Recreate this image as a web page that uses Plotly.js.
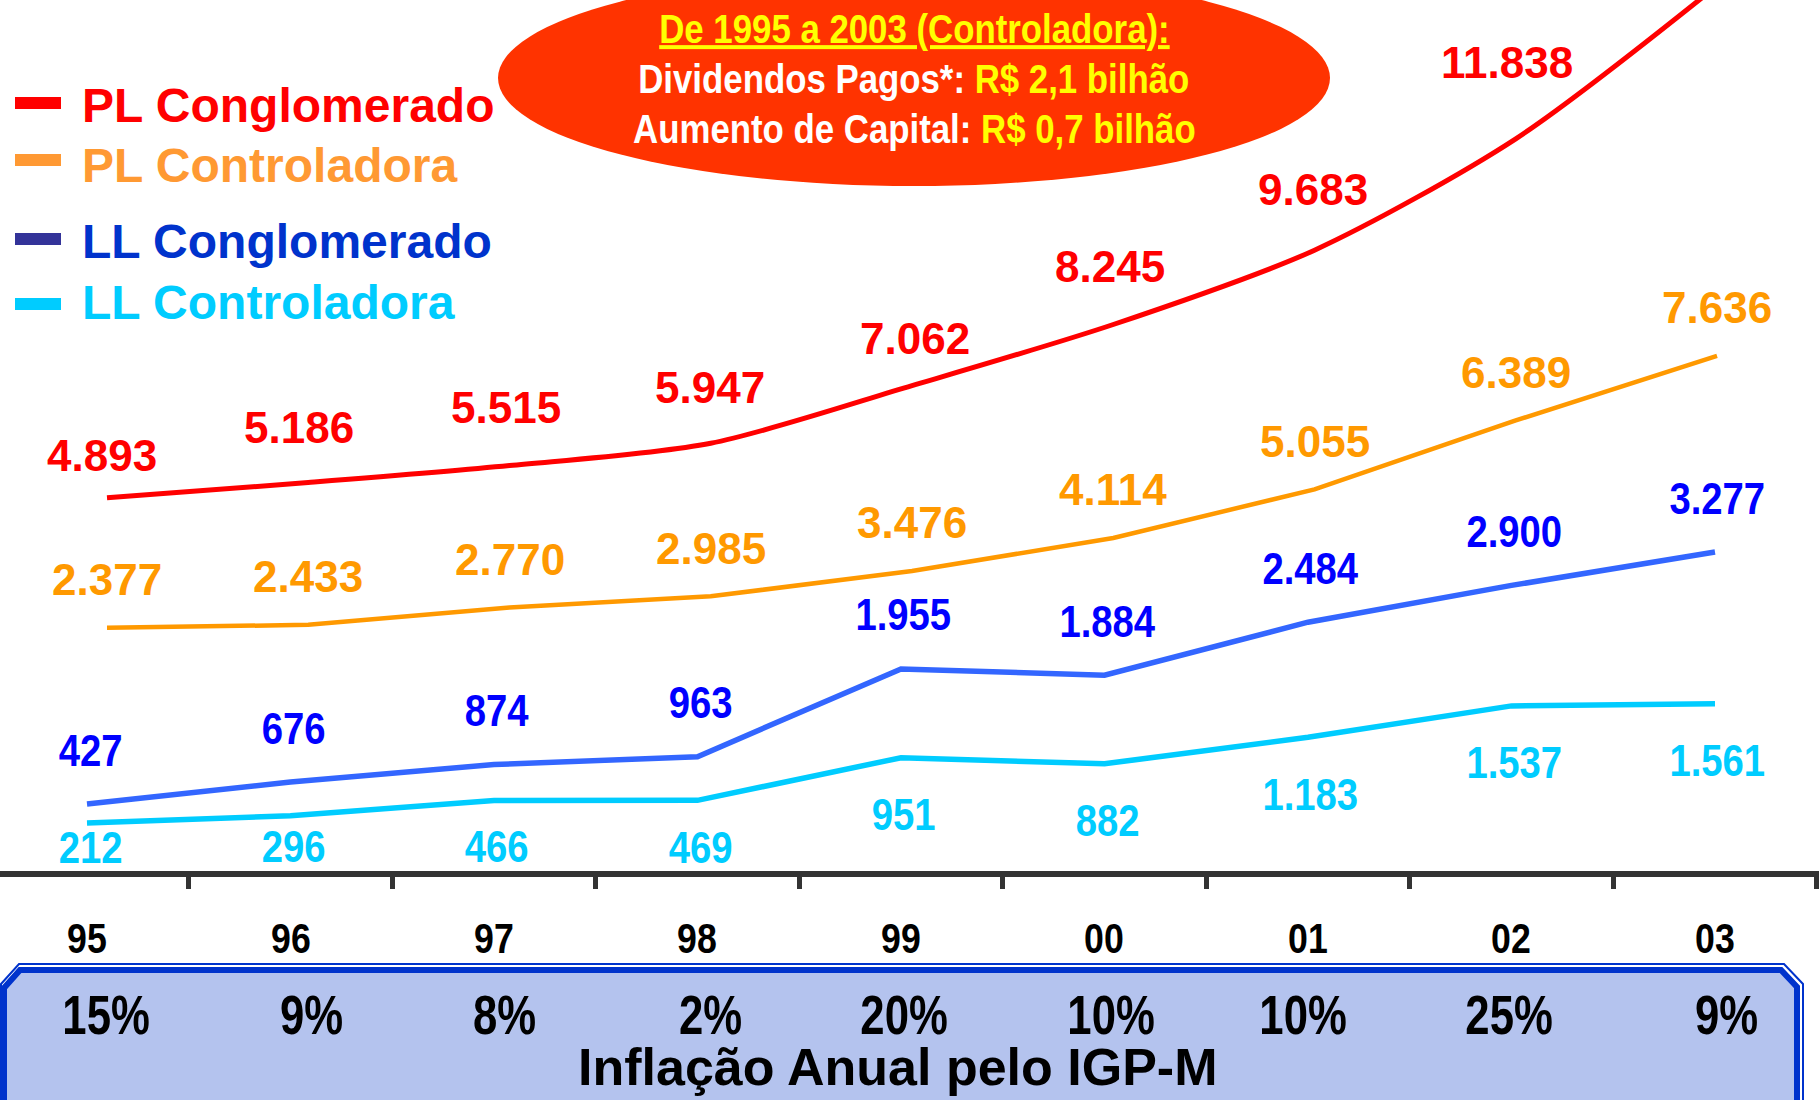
<!DOCTYPE html>
<html>
<head>
<meta charset="utf-8">
<script src="https://cdn.plot.ly/plotly-3.0.1.min.js"></script>
<style>
  html, body { margin: 0; padding: 0; background: #ffffff; }
  #chart { width: 1819px; height: 1100px; }
</style>
</head>
<body>
<div id="chart"></div>
<script>
// ---------------- DATA ----------------
const years = ['95', '96', '97', '98', '99', '00', '01', '02', '03'];
const plConglomerado = [4893, 5186, 5515, 5947, 7062, 8245, 9683, 11838, 14800]; // last value runs off the top (estimated)
const plControladora = [2377, 2433, 2770, 2985, 3476, 4114, 5055, 6389, 7636];
const llConglomerado = [427, 676, 874, 963, 1955, 1884, 2484, 2900, 3277];
const llControladora = [212, 296, 466, 469, 951, 882, 1183, 1537, 1561];
const inflacaoIGPM = [15, 9, 8, 2, 20, 10, 10, 25, 9];
const seriesNames = ['PL Conglomerado', 'PL Controladora', 'LL Conglomerado', 'LL Controladora'];
const boxTitle = 'Inflação Anual pelo IGP-M';
const noteTitle = 'De 1995 a 2003 (Controladora):';
const noteDiv = ['Dividendos Pagos*: ', 'R$ 2,1 bilhão'];
const noteCap = ['Aumento de Capital: ', 'R$ 0,7 bilhão'];

// ---------------- STYLE / LAYOUT HELPERS ----------------
const W = 1819, H = 1100;
const PX = x => x / W;
const PY = y => 1 - y / H;
const ARIAL = "'Liberation Sans', Arial, sans-serif";
const fmt = n => String(n).replace(/\B(?=(\d{3})+(?!\d))/g, '.');

const colPLC = '#FF0000', colPLK = '#FF9900', colLLC = '#3366FF', colLLK = '#00CCFF';
// label pixel offsets (layout only)
const shiftPLC = [42, 55, 58, 56, 47, 58, 61, 76, null];
const xshiftPLC = [-5, -9, -4, -1, 3, -3, -2, -9, 0];
const shiftPLK = 48;
const shiftLLC = 54;
const shiftLLK = [-24, -31, -46, -47, -57, -57, -57, -57, -57];
const xshiftPct = [-1, 3, -5, 0, -8, -2, -12, -7, 9];

const traces = [
  { x: years, y: plConglomerado, name: seriesNames[0], xaxis: 'x2', yaxis: 'y2', mode: 'lines',
    line: { color: colPLC, width: 5, shape: 'spline', smoothing: 0.8 }, hoverinfo: 'skip' },
  { x: years, y: plControladora, name: seriesNames[1], xaxis: 'x2', yaxis: 'y2', mode: 'lines',
    line: { color: colPLK, width: 4.5 }, hoverinfo: 'skip' },
  { x: years, y: llConglomerado, name: seriesNames[2], xaxis: 'x', yaxis: 'y', mode: 'lines',
    line: { color: colLLC, width: 5.5 }, hoverinfo: 'skip' },
  { x: years, y: llControladora, name: seriesNames[3], xaxis: 'x', yaxis: 'y', mode: 'lines',
    line: { color: colLLK, width: 5.5 }, hoverinfo: 'skip' }
];

const annotations = [];
const narrow = []; // [annotation index, horizontal condense factor]
function addAnn(a, squeeze) {
  annotations.push(a);
  if (squeeze) narrow.push([annotations.length - 1, squeeze]);
}

years.forEach((yr, i) => {
  if (shiftPLC[i] !== null) {
    addAnn({ x: i, y: plConglomerado[i], xref: 'x2', yref: 'y2', text: fmt(plConglomerado[i]),
      showarrow: false, yshift: shiftPLC[i], xshift: xshiftPLC[i],
      font: { family: ARIAL, size: 44, color: colPLC, weight: 'bold' } });
  }
  addAnn({ x: i, y: plControladora[i], xref: 'x2', yref: 'y2', text: fmt(plControladora[i]),
    showarrow: false, yshift: shiftPLK, font: { family: ARIAL, size: 44, color: colPLK, weight: 'bold' } });
  addAnn({ x: i, y: llConglomerado[i], xref: 'x', yref: 'y', text: fmt(llConglomerado[i]),
    showarrow: false, yshift: shiftLLC, xshift: 3, font: { family: ARIAL, size: 45, color: '#0000FF', weight: 'bold' } }, 0.85);
  addAnn({ x: i, y: llControladora[i], xref: 'x', yref: 'y', text: fmt(llControladora[i]),
    showarrow: false, yshift: shiftLLK[i], xshift: 3, font: { family: ARIAL, size: 45, color: colLLK, weight: 'bold' } }, 0.85);
  // category (year) labels under the axis
  addAnn({ x: i, y: PY(938), xref: 'x', yref: 'paper', text: yr, showarrow: false, yanchor: 'middle',
    font: { family: ARIAL, size: 43, color: '#000000', weight: 'bold' } }, 0.83);
  // inflation row
  addAnn({ x: i, y: PY(1014), xref: 'x2', yref: 'paper', text: inflacaoIGPM[i] + '%', xshift: xshiftPct[i],
    showarrow: false, yanchor: 'middle', font: { family: ARIAL, size: 56, color: '#000000', weight: 'bold' } }, 0.78);
});

addAnn({ x: PX(897), y: PY(1067), xref: 'paper', yref: 'paper', text: boxTitle, showarrow: false,
  yanchor: 'middle', font: { family: ARIAL, size: 52, color: '#000000', weight: 'bold' } });

// note inside ellipse
addAnn({ x: PX(914), y: PY(29), xref: 'paper', yref: 'paper', showarrow: false, yanchor: 'middle',
  text: '<u>' + noteTitle + '</u>', font: { family: ARIAL, size: 40, color: '#FFFF00', weight: 'bold' } }, 0.87);
addAnn({ x: PX(914), y: PY(79), xref: 'paper', yref: 'paper', showarrow: false, yanchor: 'middle',
  text: noteDiv[0] + '<span style="color:#FFFF00">' + noteDiv[1] + '</span>',
  font: { family: ARIAL, size: 40, color: '#FFFFFF', weight: 'bold' } }, 0.87);
addAnn({ x: PX(914), y: PY(129), xref: 'paper', yref: 'paper', showarrow: false, yanchor: 'middle',
  text: noteCap[0] + '<span style="color:#FFFF00">' + noteCap[1] + '</span>',
  font: { family: ARIAL, size: 40, color: '#FFFFFF', weight: 'bold' } }, 0.87);

// custom legend
const legRows = [103, 160, 239, 304];
const legTextOff = [2, 5, 2, -1];
const legMark = ['#FF0000', '#FF9933', '#333399', '#00CCFF'];
const legText = ['#FF0000', '#FF9933', '#0033CC', '#00CCFF'];
const shapes = [];
seriesNames.forEach((nm, k) => {
  addAnn({ x: PX(80), y: PY(legRows[k] + legTextOff[k]), xref: 'paper', yref: 'paper', xanchor: 'left', yanchor: 'middle',
    showarrow: false, text: nm, font: { family: ARIAL, size: 48, color: legText[k], weight: 'bold' } });
  shapes.push({ type: 'line', xref: 'paper', yref: 'paper', x0: PX(15), x1: PX(61), y0: PY(legRows[k]), y1: PY(legRows[k]),
    line: { color: legMark[k], width: 12 } });
});

// ellipse
shapes.push({ type: 'circle', xref: 'paper', yref: 'paper', layer: 'below',
  x0: PX(914 - 416), x1: PX(914 + 416), y0: PY(-30), y1: PY(186),
  fillcolor: '#FF3300', line: { width: 0 } });

// inflation box (double border, chamfered top corners)
const poly = pts => 'M ' + pts.map(p => PX(p[0]) + ',' + PY(p[1])).join(' L ') + ' Z';
shapes.push({ type: 'path', xref: 'paper', yref: 'paper', layer: 'below',
  path: poly([[1, 984], [19, 964], [1784, 964], [1803, 984], [1803, 1120], [1, 1120]]),
  fillcolor: 'rgba(0,0,0,0)', line: { color: '#0033CC', width: 2 } });
shapes.push({ type: 'path', xref: 'paper', yref: 'paper', layer: 'below',
  path: poly([[4, 988], [20, 970], [1781, 970], [1797, 987], [1797, 1120], [4, 1120]]),
  fillcolor: '#B4C3EE', line: { color: '#0033CC', width: 6 } });

const layout = {
  width: W, height: H,
  margin: { l: 0, r: 0, t: 0, b: 0, pad: 0 },
  paper_bgcolor: '#FFFFFF', plot_bgcolor: 'rgba(0,0,0,0)',
  showlegend: false,
  xaxis: {
    type: 'category', categoryorder: 'array', categoryarray: years,
    range: [-0.4275, 8.5111], domain: [0, 1], anchor: 'y',
    showline: true, linecolor: '#333333', linewidth: 6,
    ticks: 'outside', tickson: 'boundaries', ticklen: 12, tickwidth: 5, tickcolor: '#333333',
    showticklabels: false,
    showgrid: false, zeroline: false, fixedrange: true
  },
  xaxis2: {
    type: 'category', categoryorder: 'array', categoryarray: years,
    range: [-0.5317, 8.5068], overlaying: 'x', anchor: 'y2', visible: false, fixedrange: true
  },
  yaxis: { range: [-330.2, 9520.5], domain: [0.20818, 1], visible: false, fixedrange: true, zeroline: false },
  yaxis2: { range: [-2329.7, 14524], overlaying: 'y', visible: false, fixedrange: true, zeroline: false },
  annotations: annotations,
  shapes: shapes
};

Plotly.newPlot('chart', traces, layout, { displayModeBar: false, staticPlot: true }).then(gd => {
  // condensed (Arial Narrow–like) lettering: squeeze selected texts horizontally about their centre
  narrow.forEach(([idx, s]) => {
    const t = gd.querySelector('g.annotation[data-index="' + idx + '"] text.annotation-text');
    if (t) {
      t.style.transformBox = 'fill-box';
      t.style.transformOrigin = 'center';
      t.style.transform = 'scaleX(' + s + ')';
    }
  });
});
</script>
</body>
</html>
